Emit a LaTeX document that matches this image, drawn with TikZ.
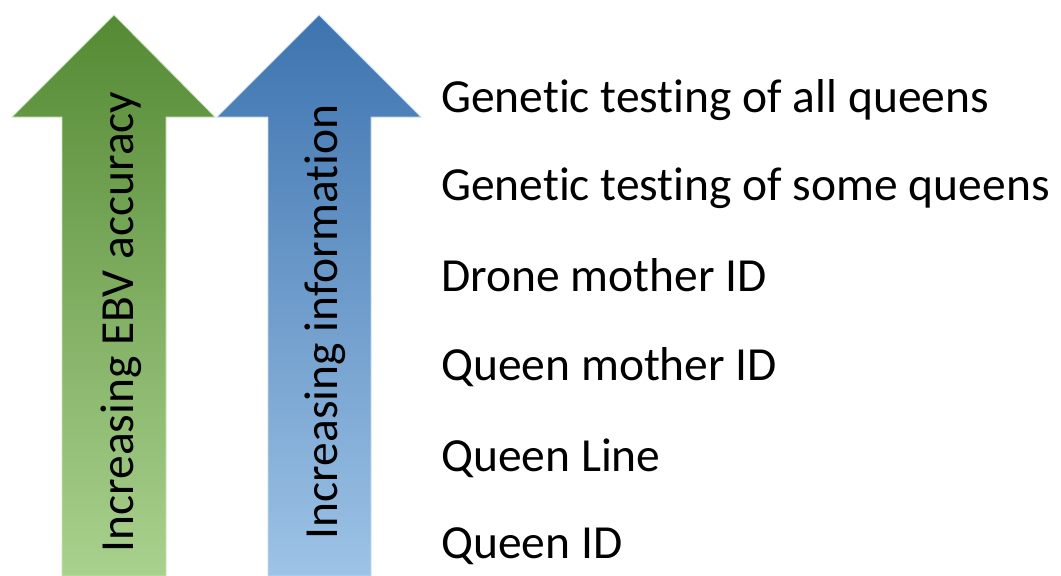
\documentclass[tikz,border=0pt]{standalone}
\usepackage{fontspec}
\setmainfont{Carlito}[RawFeature={-liga}]
\definecolor{gtop}{HTML}{558A34}
\definecolor{gbot}{HTML}{A9D18E}
\definecolor{gline}{HTML}{C9E2B8}
\definecolor{btop}{HTML}{3D73AF}
\definecolor{bbot}{HTML}{9DC3E6}
\definecolor{bline}{HTML}{C3DBF0}
\tikzset{
  lbl/.style={anchor=base west, inner sep=0pt, font=\fontsize{47.5}{56}\selectfont, text=black},
  arrlbl/.style={anchor=base, rotate=90, inner sep=0pt, font=\fontsize{47.5}{56}\selectfont, text=black},
}
\begin{document}
\begin{tikzpicture}[x=1pt,y=1pt]
\useasboundingbox (0,0) rectangle (1061,-576);
% green arrow
\shade[top color=gtop, bottom color=gbot, draw=gline, line width=0.8pt]
  (62,-576) -- (62,-117) -- (12,-117) -- (114,-15) -- (215,-117) -- (166,-117) -- (166,-576) -- cycle;
% blue arrow
\shade[top color=btop, bottom color=bbot, draw=bline, line width=0.8pt]
  (268,-576) -- (268,-117) -- (217,-117) -- (319,-15) -- (421,-117) -- (371,-117) -- (371,-576) -- cycle;
\node[arrlbl] (ebv) at (133,-322) {Increasing EBV accuracy};
\node[arrlbl] (info) at (337,-322) {Increasing information};
% labels
\node[lbl] (l1) at (441,-112) {Genetic testing of all queens};
\node[lbl] (l2) at (441,-200) {Genetic testing of some queens};
\node[lbl] (l3) at (441,-291) {Drone mother ID};
\node[lbl] (l4) at (441,-380) {Queen mother ID};
\node[lbl] (l5) at (441,-471) {Queen Line};
\node[lbl] (l6) at (441,-558) {Queen ID};
\end{tikzpicture}
\end{document}
